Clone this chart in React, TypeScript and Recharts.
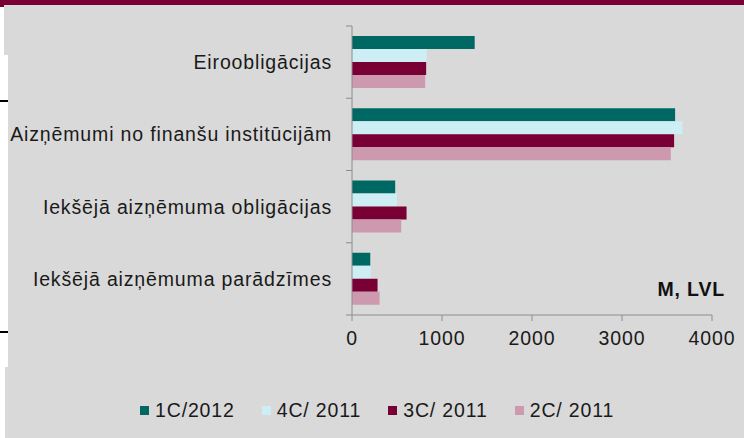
import { BarChart, Bar, XAxis, YAxis } from 'recharts'

const categories = [
  'Eiroobligācijas',
  'Aizņēmumi no finanšu institūcijām',
  'Iekšējā aizņēmuma obligācijas',
  'Iekšējā aizņēmuma parādzīmes',
]
const q1_2012 = [1363, 3590, 480, 203]
const q4_2011 = [831, 3671, 499, 210]
const q3_2011 = [824, 3579, 606, 284]
const q2_2011 = [813, 3542, 547, 307]
const xTicks = [0, 1000, 2000, 3000, 4000]
const seriesNames = ['1C/2012', '4C/ 2011', '3C/ 2011', '2C/ 2011']
const seriesColors = ['#006863', '#cdeef4', '#780034', '#cc99ae']
const unitLabel = 'M, LVL'

const data = categories.map((name, i) => ({
  name,
  s0: q1_2012[i],
  s1: q4_2011[i],
  s2: q3_2011[i],
  s3: q2_2011[i],
}))

const FONT = '"Liberation Sans", Arial, sans-serif'
const FS = 19.5
const LS = 0.85
const AXIS_X = 352
const PLOT_TOP = 26
const PLOT_BOTTOM = 315
const STEP = (PLOT_BOTTOM - PLOT_TOP) / categories.length

function CatTick(props: any) {
  const { x, y, payload, index } = props
  const top = y - STEP / 2
  return (
    <g>
      <line x1={AXIS_X - 6} x2={AXIS_X} y1={top} y2={top} stroke="#8c8c8c" />
      {index === categories.length - 1 && (
        <line x1={AXIS_X - 6} x2={AXIS_X} y1={top + STEP} y2={top + STEP} stroke="#8c8c8c" />
      )}
      <text x={x} y={y} dy="0.355em" textAnchor="end" fill="#1a1a1a"
        style={{ fontSize: FS, fontFamily: FONT, letterSpacing: LS }}>
        {payload.value}
      </text>
    </g>
  )
}

export default function App() {
  return (
    <div style={{ position: 'absolute', left: 0, top: 0, width: 744, height: 438, background: '#fff', overflow: 'hidden', fontFamily: FONT }}>
      <div style={{ position: 'absolute', left: 0, top: 0, width: 744, height: 5, background: '#780032' }} />
      <div style={{ position: 'absolute', left: 0, top: 0, width: 4, height: 7, background: '#780032' }} />
      <div style={{ position: 'absolute', left: 4, top: 5, width: 740, height: 50, background: '#d9d9d9' }} />
      <div style={{ position: 'absolute', left: 8, top: 55, width: 736, height: 312, background: '#d9d9d9' }} />
      <div style={{ position: 'absolute', left: 5, top: 367, width: 739, height: 71, background: '#d9d9d9' }} />
      <div style={{ position: 'absolute', left: 0, top: 100, width: 8, height: 2, background: '#000' }} />
      <div style={{ position: 'absolute', left: 0, top: 331, width: 8, height: 2, background: '#000' }} />

      <div style={{ position: 'absolute', left: 0, top: 0 }}>
        <BarChart width={744} height={438} data={data} layout="vertical"
          margin={{ top: PLOT_TOP, right: 32, bottom: 93, left: 0 }}
          barCategoryGap={10} barGap={0}>
          <XAxis type="number" domain={[0, 4000]} ticks={xTicks} height={30}
            axisLine={{ stroke: '#8c8c8c' }} tickLine={{ stroke: '#8c8c8c' }}
            tickSize={6} tickMargin={10} interval={0}
            tick={{ fill: '#1a1a1a', fontSize: FS, fontFamily: FONT, letterSpacing: LS }} />
          <YAxis type="category" dataKey="name" width={AXIS_X}
            axisLine={{ stroke: '#8c8c8c' }} tickLine={false}
            tickSize={6} tickMargin={14} interval={0} tick={<CatTick />} />
          {seriesNames.map((n, i) => (
            <Bar key={n} dataKey={'s' + i} name={n} fill={seriesColors[i]} isAnimationActive={false} />
          ))}
        </BarChart>
      </div>

      <div style={{ position: 'absolute', right: 19, top: 280, fontSize: FS, lineHeight: '19px', fontWeight: 'bold', letterSpacing: LS, color: '#111' }}>
        {unitLabel}
      </div>

      <div style={{ position: 'absolute', left: 140, top: 401, display: 'flex', alignItems: 'center', fontSize: FS, lineHeight: '19px', letterSpacing: LS, color: '#1a1a1a', whiteSpace: 'nowrap' }}>
        {seriesNames.map((n, i) => (
          <div key={n} style={{ display: 'flex', alignItems: 'center', marginRight: 27 }}>
            <span style={{ width: 9, height: 9, background: seriesColors[i], marginRight: 6, display: 'inline-block' }} />
            <span>{n}</span>
          </div>
        ))}
      </div>
    </div>
  )
}
